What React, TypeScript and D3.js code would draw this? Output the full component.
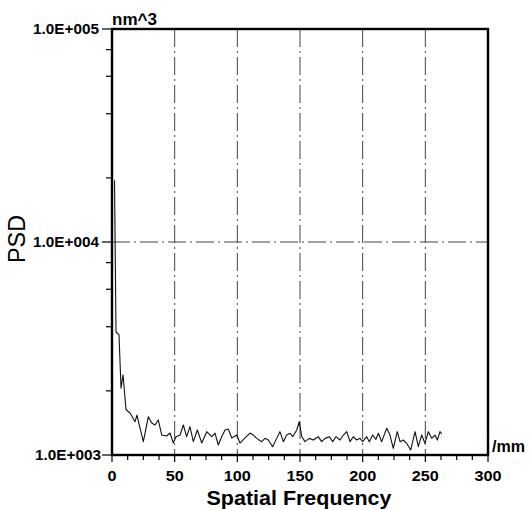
import React, { useRef, useEffect } from 'react';
import * as d3 from 'd3';

// spatial frequency (/mm) and PSD (nm^3)
const frequencies = [
  2.0, 3.2, 5.6, 7.2, 8.8, 11.2, 14.4, 18.4, 19.9, 25.0,
  29.0, 31.7, 34.3, 36.9, 39.7, 43.6, 46.3, 48.9, 51.1, 54.3,
  56.9, 59.6, 62.2, 64.9, 68.1, 71.6, 75.6, 79.6, 82.2, 84.8,
  87.5, 90.2, 92.8, 95.5, 99.5, 102.1, 106.1, 110.1, 112.7, 115.5,
  119.4, 122.1, 124.7, 128.2, 131.4, 134.0, 136.7, 139.4, 142.0, 144.2,
  147.4, 149.4, 151.4, 154.0, 157.4, 160.6, 164.6, 167.3, 170.0, 173.4,
  176.1, 178.7, 181.9, 184.6, 187.3, 189.9, 192.5, 195.2, 197.9, 200.0,
  203.2, 205.3, 208.0, 210.6, 212.5, 215.2, 219.2, 221.8, 224.4, 227.6,
  229.8, 232.4, 235.1, 238.3, 241.8, 244.4, 247.1, 249.7, 252.4, 255.1,
  257.7, 259.6, 261.7, 263.1
];
const psdValues = [
  19500, 3780, 3660, 2060, 2380, 1630, 1575, 1433, 1540, 1155,
  1513, 1413, 1383, 1460, 1241, 1228, 1268, 1138, 1219, 1241,
  1383, 1219, 1358, 1155, 1310, 1138, 1287, 1219, 1268, 1114,
  1219, 1310, 1325, 1202, 1241, 1138, 1202, 1268, 1241, 1197,
  1155, 1197, 1176, 1094, 1197, 1287, 1155, 1241, 1264, 1219,
  1310, 1433, 1219, 1155, 1197, 1176, 1219, 1155, 1197, 1219,
  1155, 1219, 1176, 1241, 1287, 1155, 1219, 1176, 1197, 1155,
  1219, 1155, 1241, 1185, 1264, 1155, 1335, 1241, 1075, 1287,
  1155, 1176, 1135, 1055, 1287, 1094, 1241, 1135, 1287, 1197,
  1241, 1176, 1287, 1255
];

const xTicks = [0, 50, 100, 150, 200, 250, 300];
const xGrid = [50, 100, 150, 200, 250];
const yDecades = [1e3, 1e4, 1e5];
const yTickLabels = ['1.0E+003', '1.0E+004', '1.0E+005'];
const yMinorMultipliers = [2, 4, 6, 8];

const App = () => {
  const svgRef = useRef(null);
  const width = 529;
  const height = 510;

  useEffect(() => {
    const svg = d3.select(svgRef.current);
    svg.selectAll('*').remove();

    const left = 112, right = 488, top = 29, bottom = 455;

    const xScale = d3.scaleLinear().domain([0, 300]).range([left, right]);
    const yScale = d3.scaleLog().domain([1e3, 1e5]).range([bottom, top]);

    svg.append('rect')
      .attr('width', width)
      .attr('height', height)
      .attr('fill', '#fff');

    // dash-dot grid
    svg.selectAll('.vgrid')
      .data(xGrid)
      .enter()
      .append('line')
      .attr('x1', d => xScale(d))
      .attr('x2', d => xScale(d))
      .attr('y1', top)
      .attr('y2', bottom)
      .attr('stroke', '#444')
      .attr('stroke-width', 1)
      .attr('stroke-dasharray', '18,4,2,4');

    svg.append('line')
      .attr('x1', left)
      .attr('x2', right)
      .attr('y1', yScale(1e4))
      .attr('y2', yScale(1e4))
      .attr('stroke', '#444')
      .attr('stroke-width', 1)
      .attr('stroke-dasharray', '18,4,2,4');

    // x ticks (every 12.5)
    const xMinor = d3.range(0, 300.01, 12.5);
    svg.selectAll('.xtick')
      .data(xMinor)
      .enter()
      .append('line')
      .attr('x1', d => xScale(d))
      .attr('x2', d => xScale(d))
      .attr('y1', bottom)
      .attr('y2', d => bottom + (d % 50 === 0 ? 7 : 5))
      .attr('stroke', '#000')
      .attr('stroke-width', 1.2);

    svg.selectAll('.xlabel')
      .data(xTicks)
      .enter()
      .append('text')
      .attr('x', d => xScale(d))
      .attr('y', 481)
      .attr('text-anchor', 'middle')
      .attr('font-family', 'Liberation Sans, Arial, sans-serif')
      .attr('font-weight', 'bold')
      .attr('font-size', 14)
      .attr('textLength', d => String(d).length * 9)
      .attr('lengthAdjust', 'spacingAndGlyphs')
      .text(d => d);

    // y ticks
    svg.selectAll('.ymajor')
      .data(yDecades)
      .enter()
      .append('line')
      .attr('x1', left - 10)
      .attr('x2', left)
      .attr('y1', d => yScale(d))
      .attr('y2', d => yScale(d))
      .attr('stroke', '#000')
      .attr('stroke-width', 1.2);

    const yMinor = [];
    [1e3, 1e4].forEach(dec => yMinorMultipliers.forEach(m => yMinor.push(dec * m)));
    svg.selectAll('.yminor')
      .data(yMinor)
      .enter()
      .append('line')
      .attr('x1', left - 6)
      .attr('x2', left)
      .attr('y1', d => yScale(d))
      .attr('y2', d => yScale(d))
      .attr('stroke', '#000')
      .attr('stroke-width', 1.2);

    svg.selectAll('.ylabel')
      .data(yDecades)
      .enter()
      .append('text')
      .attr('x', (d, i) => (i === 0 ? 101 : 99))
      .attr('y', d => yScale(d) + 5)
      .attr('text-anchor', 'end')
      .attr('font-family', 'Liberation Sans, Arial, sans-serif')
      .attr('font-weight', 'bold')
      .attr('font-size', 14)
      .attr('textLength', 66)
      .attr('lengthAdjust', 'spacingAndGlyphs')
      .text((d, i) => yTickLabels[i]);

    // the trace
    const points = frequencies.map((f, i) => [f, psdValues[i]]);
    const line = d3.line()
      .x(d => xScale(d[0]))
      .y(d => yScale(d[1]));

    svg.append('path')
      .datum(points)
      .attr('d', line)
      .attr('fill', 'none')
      .attr('stroke', '#111')
      .attr('stroke-width', 1.1)
      .attr('stroke-linejoin', 'round');

    // frame
    svg.append('rect')
      .attr('x', left)
      .attr('y', top)
      .attr('width', right - left)
      .attr('height', bottom - top)
      .attr('fill', 'none')
      .attr('stroke', '#000')
      .attr('stroke-width', 2.4);

    // unit and axis titles
    svg.append('text')
      .attr('x', left)
      .attr('y', 25)
      .attr('font-family', 'Liberation Sans, Arial, sans-serif')
      .attr('font-weight', 'bold')
      .attr('font-size', 16)
      .attr('textLength', 45)
      .attr('lengthAdjust', 'spacingAndGlyphs')
      .text('nm^3');

    svg.append('text')
      .attr('x', 492)
      .attr('y', 452)
      .attr('font-family', 'Liberation Sans, Arial, sans-serif')
      .attr('font-weight', 'bold')
      .attr('font-size', 16)
      .attr('textLength', 33)
      .attr('lengthAdjust', 'spacingAndGlyphs')
      .text('/mm');

    svg.append('text')
      .attr('x', 299)
      .attr('y', 505)
      .attr('text-anchor', 'middle')
      .attr('font-family', 'Liberation Sans, Arial, sans-serif')
      .attr('font-weight', 'bold')
      .attr('font-size', 21)
      .attr('textLength', 185)
      .attr('lengthAdjust', 'spacingAndGlyphs')
      .text('Spatial Frequency');

    svg.append('text')
      .attr('transform', 'translate(25,239) rotate(-90)')
      .attr('text-anchor', 'middle')
      .attr('font-family', 'Liberation Sans, Arial, sans-serif')
      .attr('font-size', 23)
      .attr('textLength', 48)
      .attr('lengthAdjust', 'spacingAndGlyphs')
      .text('PSD');
  }, []);

  return (
    <svg
      ref={svgRef}
      width={width}
      height={height}
      style={{ position: 'absolute', left: 0, top: 0 }}
    ></svg>
  );
};

export default App;
